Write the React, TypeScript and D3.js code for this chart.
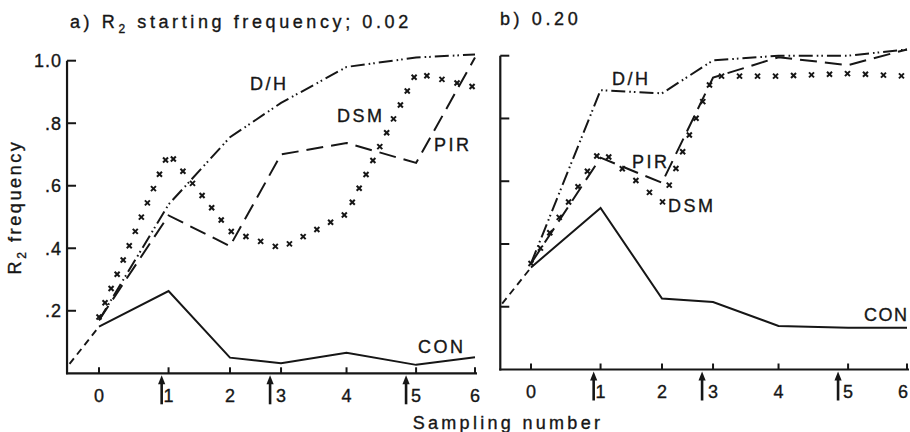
import React from "react";
import * as d3 from "d3";

// ---------- data ----------
const sampleTimes = [0, 1.11, 2.09, 2.905, 3.95, 5.06, 6];
const sampleLabels = ["0", "1", "2", "3", "4", "5", "6"];
const arrowTimes = [1.0, 2.73, 4.9];
const yTickValues = [0.2, 0.4, 0.6, 0.8, 1.0];
const yTickLabels = [".2", ".4", ".6", ".8", "1.0"];

// panel a) starting frequency 0.02
const aCON = [0.149, 0.263, 0.05, 0.032, 0.066, 0.027, 0.051];
const aDH = [0.17, 0.54, 0.755, 0.865, 0.98, 1.01, 1.02];
const aPIR = [0.17, 0.505, 0.407, 0.7, 0.737, 0.673, 1.01];
const aDSM = [0.18, 0.705, 0.455, 0.4, 0.51, 0.96, 0.915];
const aStart = [-0.47, 0.03];

// panel b) starting frequency 0.20
const bCON = [0.325, 0.515, 0.226, 0.215, 0.139, 0.133, 0.133];
const bDH = [0.338, 0.89, 0.88, 0.985, 1.0, 1.0, 1.02];
const bPIR = [0.338, 0.675, 0.595, 0.93, 0.995, 0.97, 1.02];
const bDSM = [0.338, 0.7, 0.53, 0.935, 0.935, 0.943, 0.935];
const bStart = [-0.46, 0.21];

// ---------- layout / style ----------
const INK = "#161616";
const FONT = "'Liberation Sans', Arial, Helvetica, sans-serif";
const TEXT_STROKE = 0.35;

const panels = [
  {
    key: "a",
    xRange: [99, 475],
    yRange: [373.3, 60.7],
    axisLeftTime: -0.51,
    axisRightPx: 477,
    showYLabels: true,
    markerSpacing: 15.5,
    con: aCON, dh: aDH, pir: aPIR, dsm: aDSM, start: aStart,
    labels: [
      { text: "D/H", x: 250, y: 90, ls: 2.5 },
      { text: "DSM", x: 337, y: 122, ls: 2.5 },
      { text: "PIR", x: 434, y: 151, ls: 2.5 },
      { text: "CON", x: 418, y: 353, ls: 2.5 },
    ],
  },
  {
    key: "b",
    xRange: [531, 907],
    yRange: [369.5, 55.7],
    axisLeftTime: -0.49,
    axisRightPx: 909,
    showYLabels: false,
    markerSpacing: 18,
    con: bCON, dh: bDH, pir: bPIR, dsm: bDSM, start: bStart,
    labels: [
      { text: "D/H", x: 612, y: 85, ls: 2.5 },
      { text: "PIR", x: 632, y: 168, ls: 2.5 },
      { text: "DSM", x: 668, y: 212, ls: 2.5 },
      { text: "CON", x: 864, y: 321, ls: 1.5 },
    ],
  },
];

function alongPolyline(pts: [number, number][], spacing: number) {
  const out: [number, number][] = [];
  let carry = 0;
  for (let i = 0; i < pts.length - 1; i++) {
    const [x0, y0] = pts[i];
    const [x1, y1] = pts[i + 1];
    const len = Math.hypot(x1 - x0, y1 - y0);
    let d = carry;
    while (d <= len) {
      const f = d / len;
      out.push([x0 + (x1 - x0) * f, y0 + (y1 - y0) * f]);
      d += spacing;
    }
    carry = d - len;
  }
  return out;
}

function Panel({ p }: { p: any }) {
  const x = d3.scaleLinear().domain([0, 6]).range(p.xRange);
  const y = d3.scaleLinear().domain([0, 1]).range(p.yRange);
  const line = d3
    .line<number>()
    .x((_, i) => x(sampleTimes[i]))
    .y((d) => y(d));
  const axisX0 = x(p.axisLeftTime);
  const axisY = y(0);
  const startLine = d3.line<[number, number]>()
    .x((d) => x(d[0]))
    .y((d) => y(d[1]))([
      [p.start[0], p.start[1]],
      [sampleTimes[0], p.con[0]],
    ]);
  const dsmPts = p.dsm.map((v: number, i: number) => [x(sampleTimes[i]), y(v)] as [number, number]);
  const markers = alongPolyline(dsmPts, p.markerSpacing);
  const m = 2.5;

  return (
    <g>
      {/* axes */}
      <line x1={axisX0} x2={axisX0} y1={axisY + 1} y2={y(1)} stroke={INK} strokeWidth={2.2} />
      <line x1={axisX0 - 1} x2={p.axisRightPx} y1={axisY} y2={axisY} stroke={INK} strokeWidth={2.2} />
      {yTickValues.map((v) => (
        <line key={v} x1={axisX0} x2={axisX0 + 9} y1={y(v)} y2={y(v)} stroke={INK} strokeWidth={2} />
      ))}
      {sampleTimes.map((t, i) => (
        <line key={i} x1={x(t)} x2={x(t)} y1={axisY} y2={axisY - 6} stroke={INK} strokeWidth={2} />
      ))}
      {p.showYLabels &&
        yTickValues.map((v, i) => (
          <text key={v} x={axisX0 - 5} y={y(v) + 6.5} textAnchor="end" fontSize={18} letterSpacing={1}
            fontFamily={FONT} fill={INK} stroke={INK} strokeWidth={TEXT_STROKE}>
            {yTickLabels[i]}
          </text>
        ))}
      {sampleTimes.map((t, i) => (
        <text key={i} x={Math.min(x(t), 903)} y={axisY + 28.5} textAnchor="middle" fontSize={18}
          fontFamily={FONT} fill={INK} stroke={INK} strokeWidth={TEXT_STROKE}>
          {sampleLabels[i]}
        </text>
      ))}
      {arrowTimes.map((t, i) => {
        const ax = x(t);
        return (
          <g key={i}>
            <line x1={ax} x2={ax} y1={axisY + 8} y2={axisY + 31} stroke={INK} strokeWidth={2.6} />
            <path d={`M${ax},${axisY + 2} L${ax - 3.6},${axisY + 11} L${ax + 3.6},${axisY + 11} Z`} fill={INK} />
          </g>
        );
      })}

      {/* series */}
      <path d={startLine || ""} fill="none" stroke={INK} strokeWidth={1.9} strokeDasharray="7 5" />
      <path d={line(p.con) || ""} fill="none" stroke={INK} strokeWidth={2} />
      <path d={line(p.dh) || ""} fill="none" stroke={INK} strokeWidth={2} strokeDasharray="14 4 1.6 3 1.6 4" />
      <path d={line(p.pir) || ""} fill="none" stroke={INK} strokeWidth={2} strokeDasharray="17 8" />
      {markers.map(([mx, my], i) => (
        <g key={i} stroke={INK} strokeWidth={2}>
          <line x1={mx - m} y1={my - m} x2={mx + m} y2={my + m} />
          <line x1={mx - m} y1={my + m} x2={mx + m} y2={my - m} />
        </g>
      ))}

      {p.labels.map((l: any) => (
        <text key={l.text} x={l.x} y={l.y} fontSize={18} letterSpacing={l.ls} fontFamily={FONT} fill={INK}
          stroke={INK} strokeWidth={TEXT_STROKE}>
          {l.text}
        </text>
      ))}
    </g>
  );
}

export default function App() {
  return (
    <svg width={910} height={432} style={{ position: "absolute", left: 0, top: 0, background: "#fff" }}>
      <rect width={910} height={432} fill="#fff" />
      <g fontFamily={FONT} fill={INK} stroke={INK} strokeWidth={TEXT_STROKE} fontSize={18}>
        <text x={70} y={28} letterSpacing={3.6}>
          a) R<tspan fontSize={12} dy={5}>2</tspan>
          <tspan dy={-5}> starting frequency; 0.02</tspan>
        </text>
        <text x={500} y={25} letterSpacing={3.6}>
          b) 0.20
        </text>
        <text transform="translate(21,207) rotate(-90)" textAnchor="middle" letterSpacing={2.6}>
          R<tspan fontSize={12} dy={5}>2</tspan>
          <tspan dy={-5}> frequency</tspan>
        </text>
        <text x={508} y={429} textAnchor="middle" letterSpacing={3.3}>
          Sampling number
        </text>
      </g>
      {panels.map((p) => (
        <Panel key={p.key} p={p} />
      ))}
    </svg>
  );
}
